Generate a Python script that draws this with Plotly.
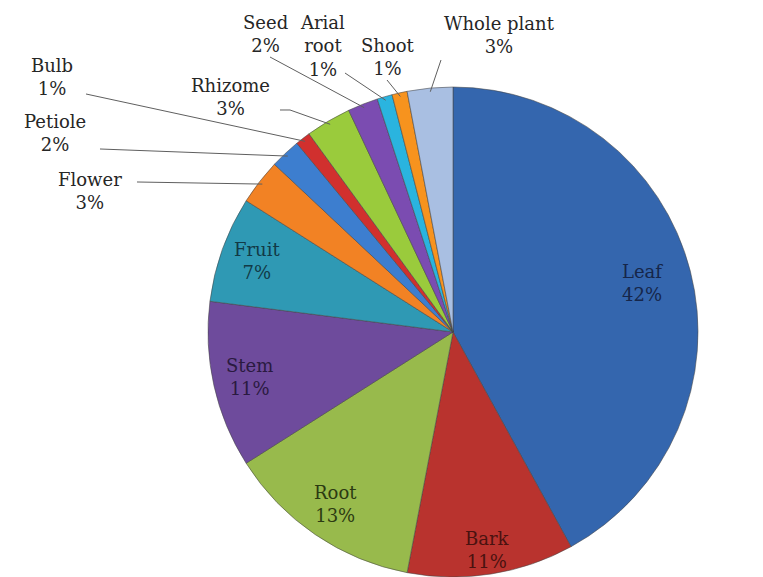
import math
import plotly.graph_objects as go

# ---- data ----
parts = ["Leaf", "Bark", "Root", "Stem", "Fruit", "Flower", "Petiole", "Bulb",
         "Rhizome", "Seed", "Arial root", "Shoot", "Whole plant"]
percent = [42, 11, 13, 11, 7, 3, 2, 1, 3, 2, 1, 1, 3]
label_text = ["Leaf", "Bark", "Root", "Stem", "Fruit", "Flower", "Petiole", "Bulb",
              "Rhizome", "Seed", "Arial<br>root", "Shoot", "Whole plant"]

# ---- styles ----
colors = ["#3466AE", "#B9332E", "#98BA4C", "#6E4B9C", "#2F99B4", "#F28224",
          "#3D7ECF", "#D1302E", "#9ACB3C", "#7B4CB1", "#2AB4DF", "#F7931E", "#A9BFE2"]
inside_colors = ["#16264A", "#4A1210", "#2C3A12", "#2A1A40", "#123A46"]
inside = [True, True, True, True, True] + [False] * 8
inside_k = [0.8, 0.9, 0.85, 0.85, 0.85]

W, H = 763, 577
CX, CY, R = 453, 332, 245  # pie centre and radius in pixels

# outside label placements (pixel centre of text) and leader-line start points
out_label_pos = {
    "Flower": (90, 191), "Petiole": (55, 133), "Bulb": (52, 77),
    "Rhizome": (230, 97), "Seed": (265, 34), "Arial root": (322, 46),
    "Shoot": (388, 57), "Whole plant": (499, 35),
}
leader_start = {
    "Flower": [(137, 182)], "Petiole": [(100, 149)], "Bulb": [(86, 94)],
    "Rhizome": [(280, 110), (290, 110)], "Seed": [(270, 57)],
    "Arial root": [(345, 73)], "Shoot": [(387, 80)], "Whole plant": [(441, 60)],
}


def px(x):
    return x / W


def py(y):
    return 1 - y / H


fig = go.Figure()
fig.add_trace(go.Pie(
    labels=parts, values=percent, sort=False, direction="clockwise", rotation=0,
    marker=dict(colors=colors, line=dict(color="rgba(70,70,70,0.55)", width=1)),
    textinfo="none", hoverinfo="label+percent", showlegend=False,
    domain=dict(x=[(CX - R) / W, (CX + R) / W], y=[(H - CY - R) / H, (H - CY + R) / H]),
))

font_family = "DejaVu Serif"
annotations = []
shapes = []
total = sum(percent)
cum = 0
for i, (name, v) in enumerate(zip(parts, percent)):
    mid = (cum + v / 2) / total * 2 * math.pi
    cum += v
    s, c = math.sin(mid), math.cos(mid)
    txt = f"{label_text[i]}<br>{v}%"
    if inside[i]:
        k = inside_k[i]
        x, y = CX + k * R * s, CY - k * R * c
        annotations.append(dict(x=px(x), y=py(y), xref="paper", yref="paper", text=txt,
                                xanchor="center", yanchor="middle", showarrow=False,
                                font=dict(family=font_family, size=18, color=inside_colors[i])))
    else:
        lx, ly = out_label_pos[name]
        annotations.append(dict(x=px(lx), y=py(ly), xref="paper", yref="paper", text=txt,
                                xanchor="center", yanchor="middle", showarrow=False,
                                font=dict(family=font_family, size=18, color="#262626")))
        ex, ey = CX + 0.985 * R * s, CY - 0.985 * R * c
        pts = leader_start[name] + [(ex, ey)]
        path = "M " + " L ".join(f"{px(a):.5f},{py(b):.5f}" for a, b in pts)
        shapes.append(dict(type="path", xref="paper", yref="paper", path=path,
                           line=dict(color="#5f5f5f", width=1)))

fig.update_layout(
    width=W, height=H, margin=dict(l=0, r=0, t=0, b=0),
    paper_bgcolor="white", plot_bgcolor="white", showlegend=False,
    font=dict(family=font_family),
    annotations=annotations, shapes=shapes,
)
fig.write_html("out.html")
